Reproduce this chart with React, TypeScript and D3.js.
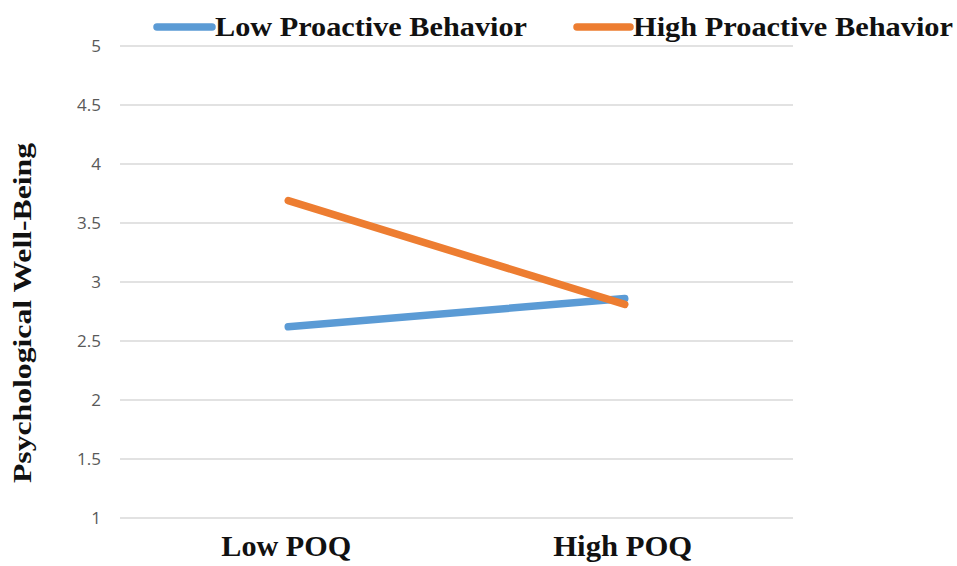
import React from "react";
import * as d3 from "d3";

const categories = ["Low POQ", "High POQ"];
const seriesNames = ["Low Proactive Behavior", "High Proactive Behavior"];
const lowProactive = [2.62, 2.86];
const highProactive = [3.69, 2.81];
const yTicks = [1, 1.5, 2, 2.5, 3, 3.5, 4, 4.5, 5];
const colors = ["#5B9BD5", "#ED7D31"];

const W = 957;
const H = 566;

export default function App() {
  const x = d3.scaleBand<string>().domain(categories).range([120, 793]);
  const y = d3.scaleLinear().domain([1, 5]).range([518, 46]);
  const line = d3
    .line<number>()
    .x((_, i) => (x(categories[i]) as number) + x.bandwidth() / 2)
    .y((d) => y(d));
  const series = [lowProactive, highProactive];
  const serif = "'Liberation Serif', 'Times New Roman', serif";
  const legend = [
    { x0: 157, x1: 212, tx: 215, tw: 312 },
    { x0: 577, x1: 630, tx: 633, tw: 320 },
  ];
  const catW = [130, 139];
  return (
    <svg width={W} height={H} style={{ position: "absolute", left: 0, top: 0, background: "#fff" }}>
      {yTicks.map((t) => (
        <g key={t}>
          <line x1={120} x2={793} y1={y(t)} y2={y(t)} stroke="#D9D9D9" strokeWidth={1.3} />
          <text
            x={101}
            y={y(t)}
            dy="0.35em"
            textAnchor="end"
            fontFamily="'Open Sans', 'Noto Sans', sans-serif"
            fontSize={17}
            fill="#595959"
          >
            {t}
          </text>
        </g>
      ))}
      {series.map((s, i) => (
        <path
          key={i}
          d={line(s) || ""}
          fill="none"
          stroke={colors[i]}
          strokeWidth={7.5}
          strokeLinecap="round"
        />
      ))}
      {categories.map((c, i) => (
        <text
          key={c}
          x={(x(c) as number) + x.bandwidth() / 2 - 2}
          y={556}
          textAnchor="middle"
          fontFamily={serif}
          fontWeight="bold"
          fontSize={29}
          textLength={catW[i]}
          lengthAdjust="spacingAndGlyphs"
          fill="#111"
        >
          {c}
        </text>
      ))}
      <text
        transform={`translate(31, ${313}) rotate(-90)`}
        textAnchor="middle"
        fontFamily={serif}
        fontWeight="bold"
        fontSize={25}
        textLength={340}
        lengthAdjust="spacingAndGlyphs"
        fill="#111"
      >
        Psychological Well-Being
      </text>
      {seriesNames.map((n, i) => (
        <g key={n}>
          <line
            x1={legend[i].x0}
            x2={legend[i].x1}
            y1={27}
            y2={27}
            stroke={colors[i]}
            strokeWidth={7.5}
            strokeLinecap="round"
          />
          <text
            x={legend[i].tx}
            y={36}
            fontFamily={serif}
            fontWeight="bold"
            fontSize={28}
            textLength={legend[i].tw}
            lengthAdjust="spacingAndGlyphs"
            fill="#111"
          >
            {n}
          </text>
        </g>
      ))}
    </svg>
  );
}
